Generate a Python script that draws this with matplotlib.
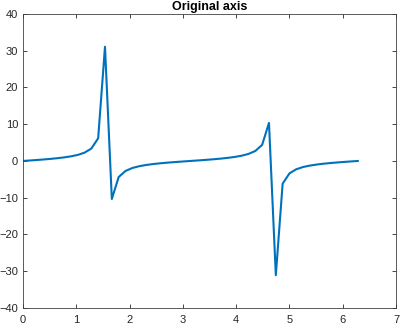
import matplotlib
matplotlib.use("Agg")
import matplotlib.pyplot as plt

plt.rcParams["font.family"] = ["Liberation Sans", "DejaVu Sans"]

x = [0.0000, 0.1282, 0.2565, 0.3847, 0.5129, 0.6411, 0.7694, 0.8976, 1.0258, 1.1541,
     1.2823, 1.4105, 1.5387, 1.6670, 1.7952, 1.9234, 2.0516, 2.1799, 2.3081, 2.4363,
     2.5646, 2.6928, 2.8210, 2.9493, 3.0775, 3.2057, 3.3339, 3.4622, 3.5904, 3.7186,
     3.8468, 3.9751, 4.1033, 4.2315, 4.3598, 4.4880, 4.6162, 4.7445, 4.8727, 5.0009,
     5.1291, 5.2574, 5.3856, 5.5138, 5.6421, 5.7703, 5.8985, 6.0267, 6.1550, 6.2832]
y = [0.000, 0.129, 0.262, 0.405, 0.563, 0.746, 0.969, 1.254, 1.640, 2.257,
     3.370, 6.180, 31.10, -10.36, -4.380, -2.720, -1.916, -1.432, -1.100, -0.853,
     -0.651, -0.482, -0.332, -0.195, -0.064, 0.064, 0.195, 0.332, 0.482, 0.651,
     0.853, 1.100, 1.432, 1.916, 2.720, 4.380, 10.36, -31.10, -6.180, -3.370,
     -2.257, -1.640, -1.254, -0.969, -0.746, -0.563, -0.405, -0.262, -0.129, 0.000]
xticks = [0, 1, 2, 3, 4, 5, 6, 7]
yticks = [-40, -30, -20, -10, 0, 10, 20, 30, 40]
title = "Original axis"

fig = plt.figure(figsize=(4.0, 3.26), dpi=100)
ax = fig.add_axes([0.0575, 0.0555, 0.9325, 0.9015])
ax.plot(x, y, color="#0072BD", linewidth=1.5)
ax.set_xlim(0, 7)
ax.set_ylim(-40, 40)
ax.set_xticks(xticks)
ax.set_yticks(yticks)
ax.tick_params(direction="in", length=3, width=0.6, colors="#262626",
               labelsize=8, top=True, right=True)
ax.tick_params(axis="x", pad=5)
ax.tick_params(axis="y", pad=3.5)
for s in ax.spines.values():
    s.set_color("#404040")
    s.set_linewidth(0.6)
ax.set_title(title, fontsize=9, fontweight="bold", pad=3)
fig.savefig("out.png", dpi=100)
